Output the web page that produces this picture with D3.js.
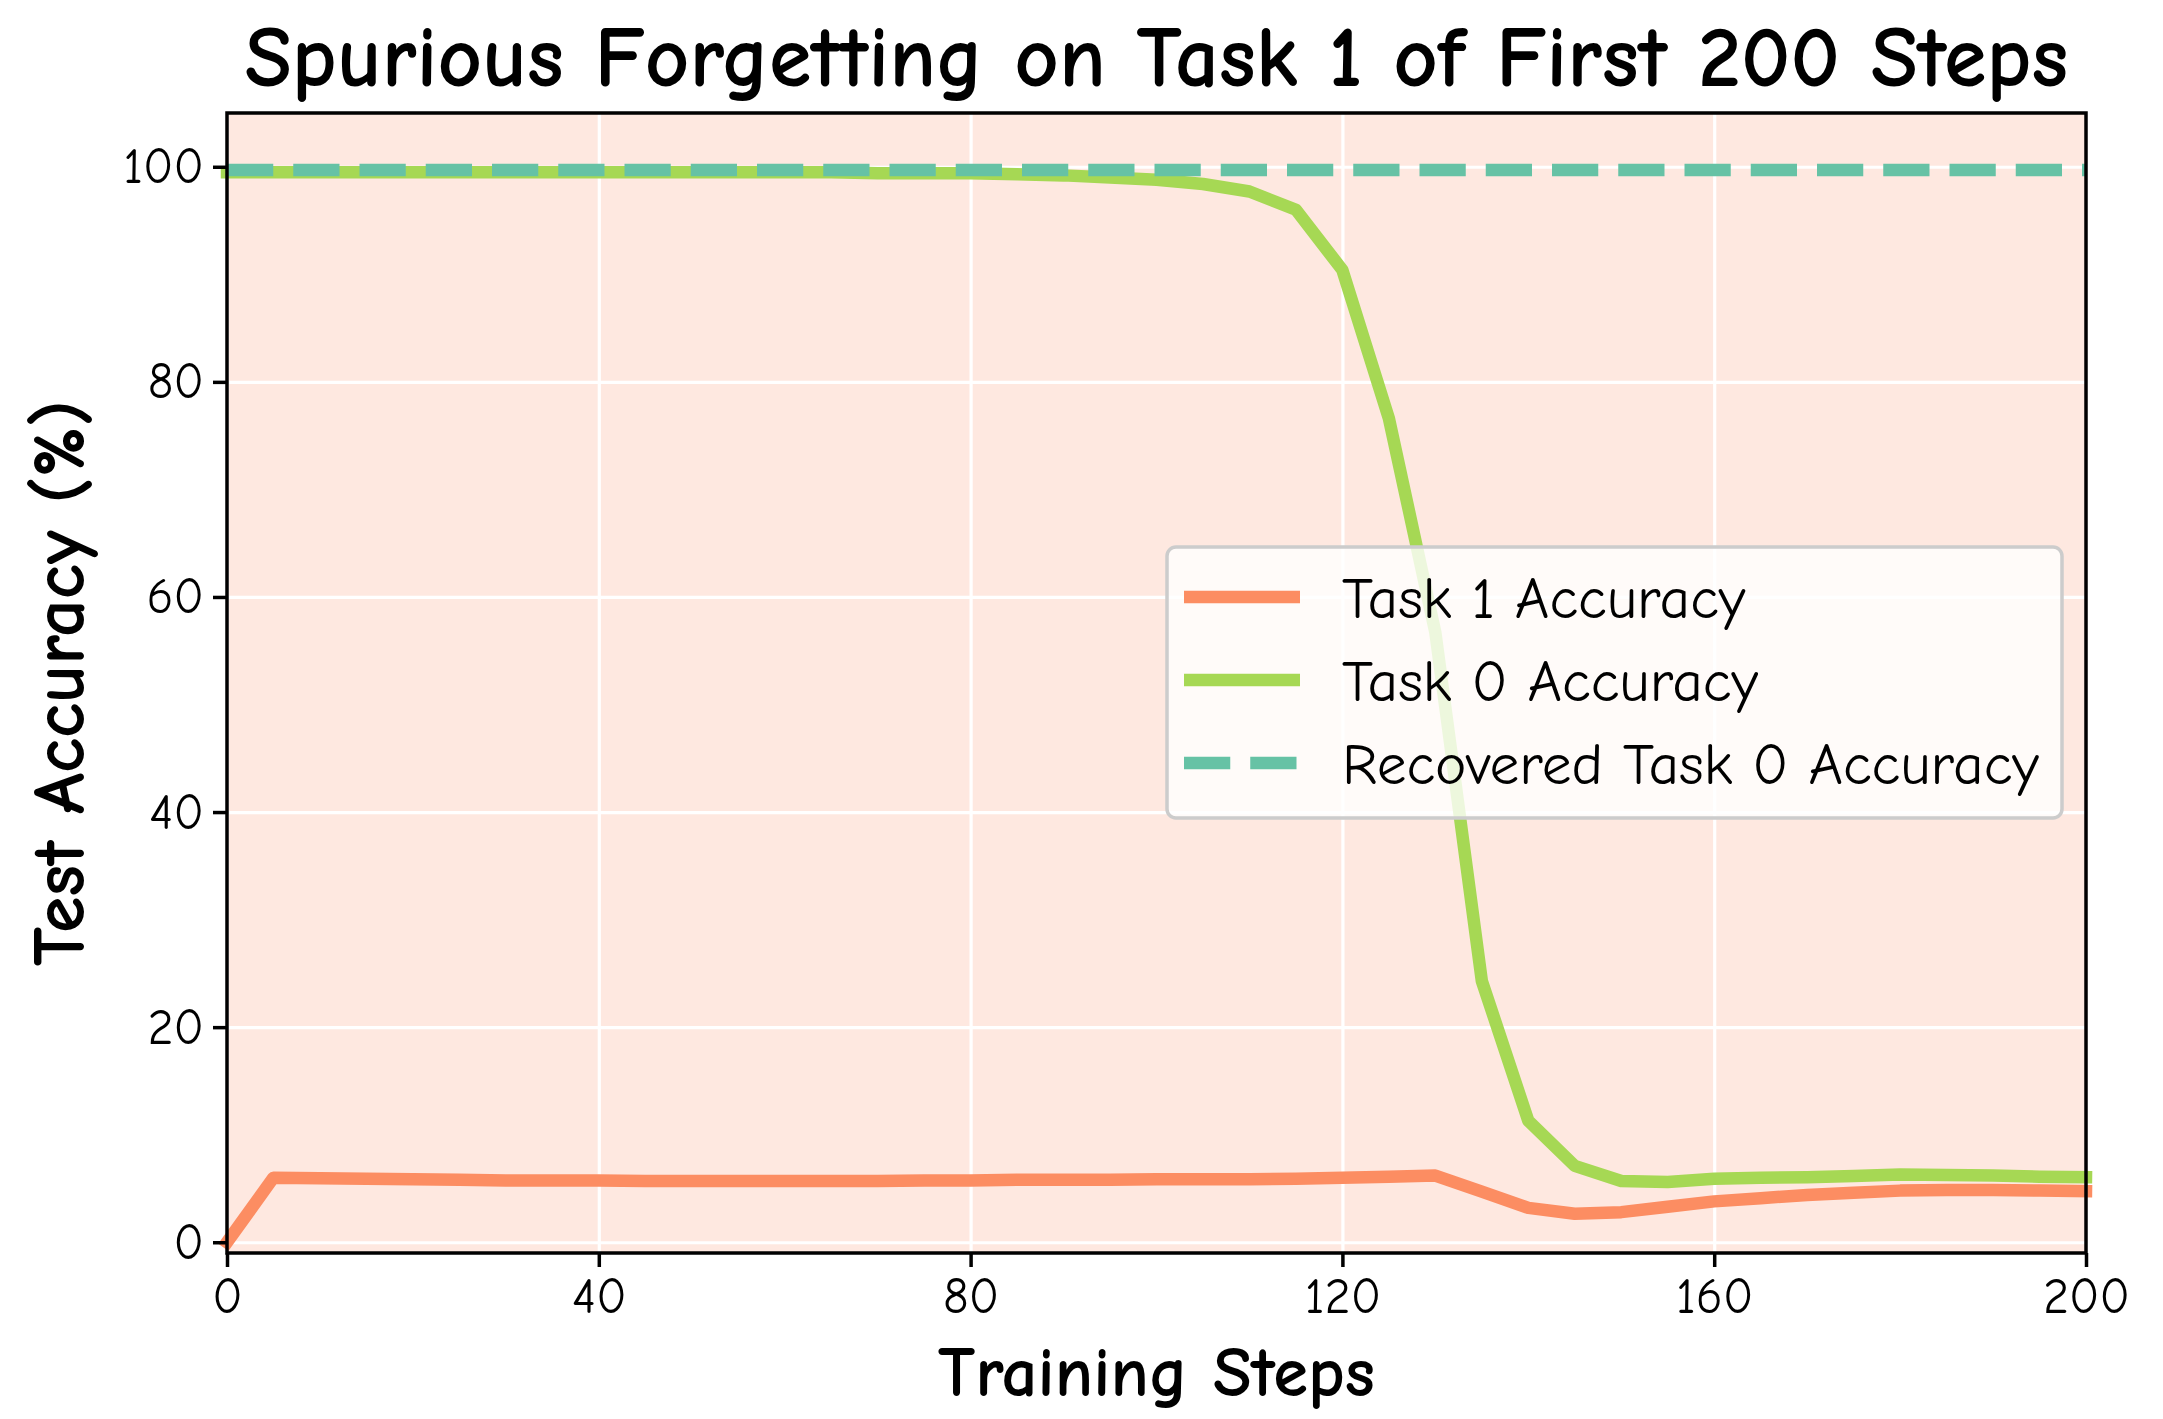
<!DOCTYPE html>
<html>
<head>
<meta charset="utf-8">
<script src="https://cdn.jsdelivr.net/npm/d3@7"></script>
<style>
    body { margin: 0; background: #fff; }
    svg { display: block; }
</style>
</head>
<body>
<div id="chart"></div>
<script>
// 数据
const steps = [0, 5, 10, 15, 20, 25, 30, 35, 40, 45, 50, 55, 60, 65, 70, 75, 80, 85, 90, 95, 100,
    105, 110, 115, 120, 125, 130, 135, 140, 145, 150, 155, 160, 165, 170, 175, 180, 185, 190, 195, 200];
const task1Acc = [0.0, 6.0, 5.95, 5.9, 5.85, 5.8, 5.75, 5.75, 5.75, 5.7, 5.7, 5.7, 5.7, 5.7, 5.7, 5.75, 5.75, 5.8, 5.8, 5.8, 5.85,
    5.85, 5.85, 5.9, 6.0, 6.1, 6.2, 4.7, 3.2, 2.65, 2.8, 3.3, 3.8, 4.1, 4.4, 4.6, 4.8, 4.85, 4.85, 4.8, 4.75];
const task0Acc = [99.5, 99.5, 99.5, 99.5, 99.5, 99.5, 99.5, 99.5, 99.5, 99.5, 99.5, 99.5, 99.5, 99.5, 99.4, 99.4, 99.4, 99.3, 99.2, 99.0, 98.8,
    98.4, 97.7, 96.0, 90.4, 76.6, 56.7, 24.3, 11.3, 7.1, 5.7, 5.6, 5.9, 6.0, 6.05, 6.15, 6.3, 6.25, 6.2, 6.1, 6.05];
const recoveredSteps = [0, 200];
const recoveredAcc = [99.7, 99.7];

const xTicks = [0, 40, 80, 120, 160, 200];
const yTicks = [0, 20, 40, 60, 80, 100];

const seriesNames = ["Task 1 Accuracy", "Task 0 Accuracy", "Recovered Task 0 Accuracy"];
const seriesColors = ["#fc8d62", "#a6d854", "#66c2a5"];
const seriesDashes = [null, null, "46.25 20"];

const titleText = "Spurious Forgetting on Task 1 of First 200 Steps";
const xLabelText = "Training Steps";
const yLabelText = "Test Accuracy (%)";

const FONT = '"Comic Sans MS", "Comic Neue", Lato, "DejaVu Sans", sans-serif';

// 按目标宽度调整字号
function fitText(sel, target) {
    const node = sel.node();
    const size = parseFloat(sel.attr("font-size"));
    const len = node.getComputedTextLength();
    if (len > 0) sel.attr("font-size", size * target / len);
}

function draw() {
    const width = 2163;
    const height = 1419;
    const margin = { top: 113, right: 77, bottom: 166, left: 227 };
    const innerW = width - margin.left - margin.right;
    const innerH = height - margin.top - margin.bottom;

    const svg = d3.select("#chart")
        .append("svg")
        .attr("width", width)
        .attr("height", height)
        .style("font-family", FONT);

    svg.append("rect")
        .attr("width", width)
        .attr("height", height)
        .attr("fill", "#fff");

    const x = d3.scaleLinear().domain([0, 200]).range([margin.left, width - margin.right]);
    const y = d3.scaleLinear().domain([-1, 105]).range([height - margin.bottom, margin.top]);

    // 背景色块
    svg.append("rect")
        .attr("x", x(0))
        .attr("y", margin.top)
        .attr("width", x(200) - x(0))
        .attr("height", innerH)
        .attr("fill", "#fc8d62")
        .attr("fill-opacity", 0.2);

    // 网格线
    svg.append("g")
        .attr("transform", `translate(0,${height - margin.bottom})`)
        .call(d3.axisBottom(x).tickValues(xTicks).tickSize(-innerH).tickFormat(""))
        .call(g => g.select(".domain").remove())
        .call(g => g.selectAll(".tick line").attr("stroke", "#fff").attr("stroke-width", 3.2));

    svg.append("g")
        .attr("transform", `translate(${margin.left},0)`)
        .call(d3.axisLeft(y).tickValues(yTicks).tickSize(-innerW).tickFormat(""))
        .call(g => g.select(".domain").remove())
        .call(g => g.selectAll(".tick line").attr("stroke", "#fff").attr("stroke-width", 3.2));

    // 折线
    const line = d3.line()
        .x(d => x(d[0]))
        .y(d => y(d[1]));

    const seriesData = [
        d3.zip(steps, task1Acc),
        d3.zip(steps, task0Acc),
        d3.zip(recoveredSteps, recoveredAcc)
    ];

    svg.append("g")
        .selectAll("path")
        .data(seriesData)
        .enter()
        .append("path")
        .attr("d", line)
        .attr("fill", "none")
        .attr("stroke", (d, i) => seriesColors[i])
        .attr("stroke-width", 12.5)
        .attr("stroke-linejoin", "round")
        .attr("stroke-linecap", (d, i) => seriesDashes[i] ? "butt" : "square")
        .attr("stroke-dasharray", (d, i) => seriesDashes[i]);

    // 坐标轴
    const styleAxis = g => {
        g.select(".domain").remove();
        g.selectAll(".tick line").attr("stroke", "#000").attr("stroke-width", 3.5);
        g.selectAll(".tick text")
            .attr("fill", "#000")
            .attr("font-family", FONT)
            .attr("font-size", 50);
    };

    svg.append("g")
        .attr("transform", `translate(0,${height - margin.bottom})`)
        .call(d3.axisBottom(x).tickValues(xTicks).tickSize(14).tickPadding(10).tickFormat(d3.format("d")))
        .call(styleAxis);

    svg.append("g")
        .attr("transform", `translate(${margin.left},0)`)
        .call(d3.axisLeft(y).tickValues(yTicks).tickSize(14).tickPadding(9).tickFormat(d3.format("d")))
        .call(styleAxis);

    // 边框
    svg.append("rect")
        .attr("x", margin.left)
        .attr("y", margin.top)
        .attr("width", innerW)
        .attr("height", innerH)
        .attr("fill", "none")
        .attr("stroke", "#000")
        .attr("stroke-width", 3.5);

    // 图例
    const legend = svg.append("g").attr("transform", "translate(1167,547)");
    legend.append("rect")
        .attr("width", 895)
        .attr("height", 271)
        .attr("rx", 9)
        .attr("fill", "#fff")
        .attr("fill-opacity", 0.8)
        .attr("stroke", "#cccccc")
        .attr("stroke-width", 3.5);

    const items = legend.selectAll(".item")
        .data(seriesNames)
        .enter()
        .append("g")
        .attr("class", "item")
        .attr("transform", (d, i) => `translate(0,${50 + i * 83})`);

    items.append("line")
        .attr("x1", 17)
        .attr("x2", 133)
        .attr("stroke", (d, i) => seriesColors[i])
        .attr("stroke-width", 12.5)
        .attr("stroke-dasharray", (d, i) => seriesDashes[i]);

    const labels = items.append("text")
        .attr("x", 175)
        .attr("dy", "0.35em")
        .attr("font-size", 44)
        .attr("fill", "#000")
        .text(d => d);

    // 以最长条目为准统一字号
    const longest = labels.filter((d, i) => i === 2);
    fitText(longest, 697);
    labels.attr("font-size", longest.attr("font-size"));

    // 标题与轴标签
    const title = svg.append("text")
        .attr("x", (x(0) + x(200)) / 2)
        .attr("y", 86)
        .attr("text-anchor", "middle")
        .attr("font-weight", "bold")
        .attr("font-size", 66)
        .text(titleText);
    fitText(title, 1824);

    const xLabel = svg.append("text")
        .attr("x", (x(0) + x(200)) / 2)
        .attr("y", 1396)
        .attr("text-anchor", "middle")
        .attr("font-weight", "bold")
        .attr("font-size", 52)
        .text(xLabelText);
    fitText(xLabel, 437);

    const yLabel = svg.append("text")
        .attr("transform", `translate(84,${(y(-1) + y(105)) / 2}) rotate(-90)`)
        .attr("text-anchor", "middle")
        .attr("font-weight", "bold")
        .attr("font-size", 52)
        .text(yLabelText);
    fitText(yLabel, 566);
}

draw();
</script>
</body>
</html>
